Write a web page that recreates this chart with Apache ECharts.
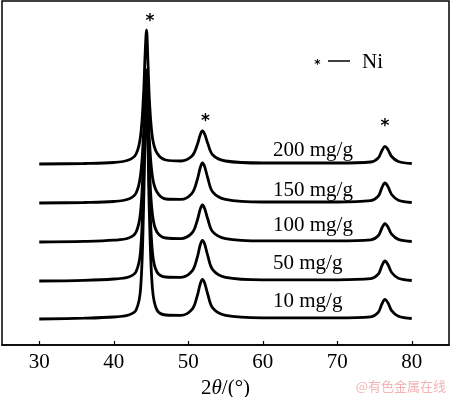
<!DOCTYPE html>
<html>
<head>
<meta charset="utf-8">
<script src="https://cdn.jsdelivr.net/npm/echarts@6/dist/echarts.min.js"></script>
<style>
  html, body { margin: 0; padding: 0; background: #fff; }
  #chart { width: 450px; height: 397px; }
</style>
</head>
<body>
<div id="chart"></div>
<script>
// 2θ sampling points shared by every trace
const twoTheta = [30, 36, 40, 42, 43, 43.6, 44.0, 44.2, 44.4, 44.6, 44.8, 45.2, 45.8, 47, 49,
  50.5, 51.2, 51.6, 51.9, 52.2, 52.6, 53.3, 55, 60, 70, 74.5, 75.5, 76.0, 76.4, 76.8, 77.3, 78.2, 80];

// stacked intensity (arbitrary units, already offset like the figure)
const trace10 = [26, 26.8, 28, 30, 35, 56, 136, 211, 250, 196, 126, 56, 35, 30, 29.6,
  35.6, 48.9, 60.9, 65.7, 62.1, 51.3, 36.8, 29.6, 27.2, 27.2, 28.2, 32.7, 41.1, 45.7, 42.2, 34.4, 28.8, 26.5];
const trace50 = [64, 64.7, 66, 68, 73.5, 94, 164, 224, 259, 209, 152, 92, 73, 68, 67.7,
  73.9, 87.4, 99.8, 104.7, 101, 89.9, 75.1, 67.7, 65.2, 65.2, 66.3, 70.8, 79.3, 84, 80.5, 72.5, 66.8, 64.5];
const trace100 = [103, 103.6, 104.8, 107, 113, 133, 189, 235, 267, 223, 175, 130, 113, 107, 106.4,
  112, 124.3, 135.5, 140, 136.6, 126.5, 113.1, 106.4, 104.1, 104.1, 105.1, 109.2, 117, 121.3, 118.1, 110.8, 105.6, 103.5];
const trace150 = [142, 142.5, 143.5, 146, 152, 170, 211, 249, 275, 241, 203, 168, 153, 146, 145.6,
  151.7, 165, 177, 182, 178.4, 167.5, 152.9, 145.6, 143, 143, 144.3, 148.8, 157.3, 162, 158.5, 150.5, 144.8, 142.5];
const trace200 = [181, 181.5, 182.5, 185, 191, 209, 251, 289, 315, 281, 243, 207, 192, 185, 184,
  189, 200, 210, 214, 211, 202, 190, 184, 182, 182, 183, 187, 194.5, 198.6, 195.5, 188.5, 183.5, 181.5];

const seriesNames = ['10 mg/g', '50 mg/g', '100 mg/g', '150 mg/g', '200 mg/g'];
const seriesData = [trace10, trace50, trace100, trace150, trace200];
const xTicks = [30, 40, 50, 60, 70, 80];

const chart = echarts.init(document.getElementById('chart'));
const serif = '"Liberation Serif", "Times New Roman", serif';
const star = (x, y, size) => ({
  type: 'text', x: x, y: y, z: 10,
  style: { text: '*', font: 'bold ' + size + 'px "DejaVu Sans"', fill: '#000', align: 'center', verticalAlign: 'middle' }
});

const option = {
  backgroundColor: '#fff',
  animation: false,
  grid: {
    left: 2, right: 1, top: 1, bottom: 52,
    outerBoundsMode: 'none',
    show: true, borderColor: '#000', borderWidth: 1.5
  },
  xAxis: {
    type: 'value',
    min: 25,
    max: 85,
    name: '{a|2}{b|θ}{a|/(°)}',
    nameLocation: 'middle',
    nameGap: 32,
    nameTextStyle: {
      rich: {
        a: { fontFamily: serif, fontSize: 21, color: '#000' },
        b: { fontFamily: serif, fontSize: 21, color: '#000', fontStyle: 'italic' }
      }
    },
    axisLine: { lineStyle: { color: '#000', width: 1.5 } },
    axisTick: { inside: true, length: 4, customValues: xTicks, lineStyle: { color: '#000', width: 1.2 } },
    axisLabel: { customValues: xTicks, margin: 7, fontFamily: serif, fontSize: 21, color: '#000' },
    splitLine: { show: false }
  },
  yAxis: {
    type: 'value',
    min: 0,
    max: 344,
    show: false
  },
  series: seriesNames.map((name, i) => ({
    name: name,
    type: 'line',
    smooth: 0.35,
    symbol: 'none',
    lineStyle: { color: '#000', width: 2.8 },
    data: twoTheta.map((x, j) => [x, seriesData[i][j]])
  })),
  graphic: [
    // sample labels
    ...seriesNames.map((name, i) => ({
      type: 'text', left: 273, top: [291, 253, 215, 180, 140][i],
      style: { text: name, font: '21px ' + serif, fill: '#000' }
    })),
    // peak markers
    star(150, 22, 17),
    star(205.5, 121.5, 17),
    star(385, 126.5, 17),
    // legend "* — Ni"
    star(317.5, 65, 12),
    { type: 'line', shape: { x1: 328, y1: 61, x2: 350, y2: 61 }, style: { stroke: '#000', lineWidth: 1.5 } },
    { type: 'text', x: 362, y: 62, style: { text: 'Ni', font: '21px ' + serif, fill: '#000', verticalAlign: 'middle' } },
    // watermark
    { type: 'text', right: 4, top: 380, style: { text: '@有色金属在线', font: '13px "Noto Sans CJK SC"', fill: '#f3b3b3' } }
  ]
};

chart.setOption(option);
</script>
</body>
</html>
